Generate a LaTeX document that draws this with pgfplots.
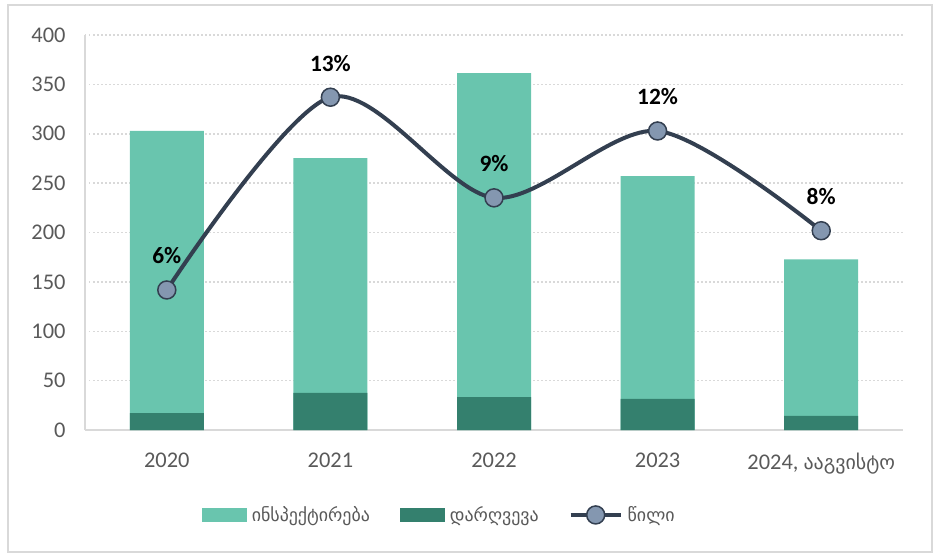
\documentclass[border=0pt]{standalone}
\usepackage{pgfplots}
\pgfplotsset{compat=1.18}
\usepackage{fontspec}
\setmainfont{Carlito}
\newfontfamily\geo{DejaVu Sans}
\definecolor{light}{HTML}{69C5AE}
\definecolor{dark}{HTML}{34806E}
\definecolor{linec}{HTML}{333F50}
\definecolor{markc}{HTML}{8497B0}
\definecolor{gridc}{HTML}{D9D9D9}
\definecolor{txt}{HTML}{595959}
\begin{document}
\begin{tikzpicture}
\begin{axis}[
  width=818bp, height=395bp, scale only axis,
  xmin=-0.5, xmax=4.5, ymin=0, ymax=400,
  xtick={0,...,4},
  xticklabels={2020,2021,2022,2023,{2024, {\geo\fontsize{20}{23}\selectfont ააგვისტო}}},
  ytick={0,50,...,400},
  axis x line*=bottom, axis y line*=left,
  axis line style={gridc, line width=1.2bp, -},
  major tick length=0pt,
  ymajorgrids,
  grid style={gridc, line width=1.5bp, dash pattern=on 1.5bp off 2.5bp},
  tick label style={font=\fontsize{22.5}{25}\selectfont, text=txt},
  yticklabel style={xshift=-16bp},
  xticklabel style={yshift=-19bp},
  /pgf/number format/assume math mode=true,
  legend columns=3,
  legend style={at={(0.433,-0.215)}, anchor=center, draw=none,
    font=\geo\fontsize{18}{21}\selectfont, text=txt,
    /tikz/every odd column/.append style={column sep=3bp},
    /tikz/every even column/.append style={column sep=28bp}},
]
\addplot[ybar, bar width=74bp, bar shift=0pt, fill=light, draw=none,
  legend image code/.code={\fill[light] (0bp,-7bp) rectangle (45bp,7bp);}]
  coordinates {(0,302.8) (1,275.4) (2,361.5) (3,257) (4,172.8)};
\addlegendentry{ინსპექტირება}
\addplot[ybar, bar width=74bp, bar shift=0pt, fill=dark, draw=none,
  legend image code/.code={\fill[dark] (0bp,-7bp) rectangle (45bp,7bp);}]
  coordinates {(0,17.2) (1,37.5) (2,33.4) (3,31.4) (4,14.2)};
\addlegendentry{დარღვევა}
\addplot[linec, line width=4bp, smooth, tension=0.5,
  mark=*, mark size=9bp, mark options={fill=markc, draw=linec, line width=1.5bp},
  nodes near coords, point meta=explicit symbolic,
  nodes near coords style={font=\bfseries\fontsize{23.5}{26}\selectfont, text=black, anchor=center, yshift=34bp},
  legend image code/.code={\draw[linec, line width=4bp] (0bp,0bp) -- (50bp,0bp);
    \fill[markc, draw=linec, line width=1.5bp] (25bp,0bp) circle (9bp);}]
  coordinates {(0,141.8)[6\%] (1,337)[13\%] (2,235.1)[9\%] (3,302.8)[12\%] (4,201.8)[8\%]};
\addlegendentry{წილი}
\end{axis}
\draw[gridc, line width=1.5bp] ([xshift=-77bp,yshift=-122bp]current axis.south west) rectangle ([xshift=29bp,yshift=30bp]current axis.north east);
\path ([xshift=-85bp,yshift=-128bp]current axis.south west) rectangle ([xshift=32bp,yshift=35bp]current axis.north east);
\end{tikzpicture}
\end{document}
